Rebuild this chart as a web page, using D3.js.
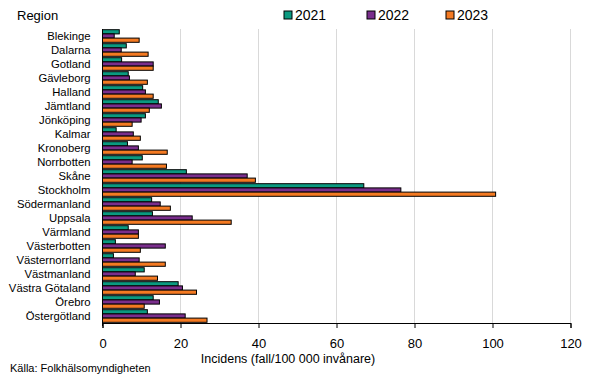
<!DOCTYPE html>
<html><head><meta charset="utf-8">
<script src="https://cdn.jsdelivr.net/npm/d3@7"></script>
<style>body{margin:0;background:#fff}svg{display:block}text{font-family:"Liberation Sans",Arial,sans-serif}</style>
</head><body><svg id="c" width="605" height="378"></svg>
<script>
const regions = ["Blekinge","Dalarna","Gotland","Gävleborg","Halland","Jämtland","Jönköping","Kalmar","Kronoberg","Norrbotten","Skåne","Stockholm","Södermanland","Uppsala","Värmland","Västerbotten","Västernorrland","Västmanland","Västra Götaland","Örebro","Östergötland"];
const years = ["2021","2022","2023"];
const v2021 = [4.3,6.1,4.9,6.6,10.3,14.3,11.0,3.5,6.4,10.2,21.5,67.0,12.6,12.8,6.6,3.3,2.8,10.7,19.4,13.0,11.5];
const v2022 = [3.0,4.8,13.0,6.9,11.0,15.1,9.9,7.9,9.2,7.6,37.1,76.5,14.8,23.0,9.2,16.1,9.4,8.4,20.5,14.6,21.2];
const v2023 = [9.4,11.7,13.0,11.5,13.0,12.0,7.6,9.7,16.6,16.4,39.2,100.8,17.4,33.0,9.2,9.7,16.1,14.1,24.1,10.7,26.8];
const xTicks = [0,20,40,60,80,100,120];
const colors = ["#0b9a80","#7a2e8c","#f47a22"];
const series = [v2021,v2022,v2023];

const svg = d3.select("#c");
const pL = 102.5, pR = 570.5, pT = 29, pB = 323;
const FF = "'Liberation Sans',Arial,sans-serif";
const x = d3.scaleLinear().domain([0,120]).range([pL,pR]);
const y = d3.scaleBand().domain(regions).range([pT,pB]).paddingInner(0.1).paddingOuter(0.05);
const yi = d3.scaleBand().domain(years).range([0,y.bandwidth()]);

// gridlines
svg.append("g").selectAll("line").data(xTicks.slice(1)).join("line")
  .attr("x1",d=>x(d)).attr("x2",d=>x(d)).attr("y1",pT).attr("y2",pB)
  .attr("stroke","#d9d9d9").attr("stroke-width",1);

// bars
regions.forEach((r,i)=>{
  years.forEach((yr,j)=>{
    svg.append("rect")
      .attr("x",x(0)).attr("y",y(r)+yi(yr))
      .attr("width",x(series[j][i])-x(0)).attr("height",yi.bandwidth())
      .attr("fill",colors[j]).attr("stroke","#000").attr("stroke-width",1);
  });
});

// x axis
const xa = svg.append("g").attr("transform",`translate(0,${pB})`)
  .call(d3.axisBottom(x).tickValues(xTicks).tickSize(5).tickFormat(d3.format("d")));
xa.select(".domain").attr("stroke","#000");
xa.selectAll("line").attr("stroke","#000");
xa.selectAll("text").attr("font-size",13).attr("fill","#000").attr("font-family",FF)
  .attr("dy",null).attr("y",24.5);

// y axis
const ya = svg.append("g").attr("transform",`translate(${pL},0)`)
  .call(d3.axisLeft(y).tickSize(0).tickPadding(12));
ya.select(".domain").attr("stroke","#000").attr("d",`M0,${pT}V${pB+3}`);
ya.selectAll("text").attr("font-size",11.3).attr("fill","#000").attr("font-family",FF);

svg.append("text").attr("x",17).attr("y",20).attr("font-size",13).text("Region");
svg.append("text").attr("x",288).attr("y",363).attr("text-anchor","middle").attr("font-size",12.5).text("Incidens (fall/100 000 invånare)");
svg.append("text").attr("x",10).attr("y",372).attr("font-size",11).text("Källa: Folkhälsomyndigheten");

// legend
const lx = [284,367,446];
years.forEach((yr,j)=>{
  svg.append("rect").attr("x",lx[j]).attr("y",11).attr("width",8).attr("height",8)
    .attr("fill",colors[j]).attr("stroke","#000").attr("stroke-width",1);
  svg.append("text").attr("x",lx[j]+11).attr("y",20).attr("font-size",14).text(yr);
});
</script></body></html>
